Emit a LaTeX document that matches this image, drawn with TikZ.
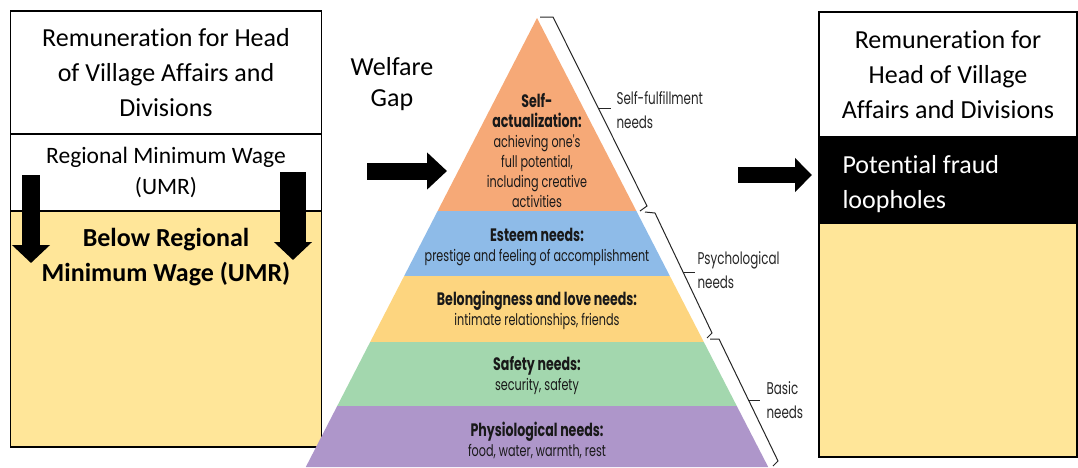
\documentclass[tikz,border=0pt]{standalone}
\usepackage{fontspec}
\setmainfont[Ligatures={NoCommon,NoContextual},Contextuals=NoAlternate]{Carlito}
\newfontfamily\pyrfont[FakeStretch=0.7]{Poppins}
\usetikzlibrary{positioning,arrows.meta}

\definecolor{boxgold}{HTML}{FFE699}
\definecolor{pyrorange}{HTML}{F6A977}
\definecolor{pyrblue}{HTML}{8EBBE8}
\definecolor{pyryellow}{HTML}{FDD57F}
\definecolor{pyrgreen}{HTML}{A3D7AE}
\definecolor{pyrpurple}{HTML}{AE96CA}

\begin{document}
\begin{tikzpicture}
    [ x = 1pt, y = -1pt
    , box/.style =
      { draw, line width=1.5pt, inner sep=0pt, outer sep=0pt, minimum width=311pt }
    , boxtext/.style =
      { font=\fontsize{26}{35}\selectfont, align=center }
    , fatarrow/.style =
      { line width=17pt, -{Triangle[length=20pt,width=36pt]} }
    , tier/.style =
      { font=\pyrfont\fontsize{16}{20}\selectfont, align=center, text=black!90 }
    , bracket/.style =
      { line width=1pt, black!85 }
    , bracketlabel/.style =
      { font=\pyrfont\fontsize{17}{24}\selectfont, align=left, anchor=west, text=black!85 }
    ]
    \useasboundingbox (0,0) rectangle (1078,467);

    % left column
    \node [box, boxtext, minimum height=123pt] (headleft) at (166,72.5)
      {Remuneration for Head\\of Village Affairs and\\Divisions};
    \node [box, font=\fontsize{23.5}{31}\selectfont, align=center, minimum height=77pt]
      (umrleft) [below=0pt of headleft] {Regional Minimum Wage\\(UMR)};
    \node [box, fill=boxgold, minimum height=236pt] (belowleft) [below=0pt of umrleft] {};
    \node [boxtext, font=\bfseries\fontsize{26}{35}\selectfont] (belowtext)
      at ([yshift=-46pt]belowleft.north) {Below Regional\\Minimum Wage (UMR)};

    \coordinate (dropl1) at (31,175);
    \coordinate (dropl2) at (31,263);
    \coordinate (dropr1) at (293,172);
    \coordinate (dropr2) at (293,260);
    \draw [fatarrow, line width=18pt, -{Triangle[length=18pt,width=37pt]}] (dropl1) -- (dropl2);
    \draw [fatarrow, line width=26pt, -{Triangle[length=18pt,width=37pt]}] (dropr1) -- (dropr2);

    % welfare gap
    \node [font=\fontsize{26}{31}\selectfont, align=center] (gap) at (392,84.5) {Welfare\\Gap};
    \coordinate (gapstart) at (367,171);
    \coordinate (gapend) at (447,171);
    \draw [fatarrow] (gapstart) -- (gapend);

    % pyramid
    \coordinate (apex) at (537,18);
    \coordinate (baseleft) at (305.8,467);
    \coordinate (baseright) at (768.2,467);
    \begin{scope}
      \clip (apex) -- (baseleft) -- (baseright) -- cycle;
      \fill [pyrorange] (300,0) rectangle (780,211);
      \fill [pyrblue] (300,211) rectangle (780,276);
      \fill [pyryellow] (300,276) rectangle (780,342);
      \fill [pyrgreen] (300,342) rectangle (780,406);
      \fill [pyrpurple] (300,406) rectangle (780,468);
    \end{scope}

    \node [tier] (selfact) at (537,151)
      {{\bfseries\fontsize{18}{21}\selectfont Self-}\\
       {\bfseries\fontsize{18}{21}\selectfont actualization:}\\
       achieving one's\\full potential,\\including creative\\activities};
    \node [tier] (esteem) at (537,247)
      {{\bfseries\fontsize{18}{20}\selectfont Esteem needs:}\\prestige and feeling of accomplishment};
    \node [tier] (belong) at (537,310)
      {{\bfseries\fontsize{18}{20}\selectfont Belongingness and love needs:}\\intimate relationships, friends};
    \node [tier] (safety) at (537,375)
      {{\bfseries\fontsize{18}{20}\selectfont Safety needs:}\\security, safety};
    \node [tier] (physio) at (537,440)
      {{\bfseries\fontsize{18}{20}\selectfont Physiological needs:}\\food, water, warmth, rest};

    % brackets
    \draw [bracket] (540,17) -- (553,17) -- (647,206) -- (640,211);
    \draw [bracket] (598,108) -- (611,108);
    \draw [bracket] (645,212) -- (655,213) -- (712,333) -- (707,338);
    \draw [bracket] (683,272) -- (695,272);
    \draw [bracket] (710,339) -- (719,339) -- (778,461) -- (773,466);
    \draw [bracket] (748,400) -- (760,400);

    \node [bracketlabel] (selfful) at (613,110) {Self-fulfillment\\needs};
    \node [bracketlabel] (psych) at (694,270) {Psychological\\needs};
    \node [bracketlabel] (basic) at (763,400) {Basic\\needs};

    % right column
    \coordinate (fraudstart) at (738,175);
    \coordinate (fraudend) at (812,175);
    \draw [fatarrow, line width=16pt, -{Triangle[length=17pt,width=33pt]}] (fraudstart) -- (fraudend);

    \node [box, boxtext, minimum width=258pt, minimum height=125pt] (headright) at (948,74.5)
      {Remuneration for\\Head of Village\\Affairs and Divisions};
    \node [box, fill=black, minimum width=258pt, minimum height=86pt] (fraud) [below=0pt of headright] {};
    \node [box, fill=boxgold, minimum width=258pt, minimum height=234pt] (goldright) [below=0pt of fraud] {};
    \node [boxtext, text=white, align=left, anchor=west] (fraudtext)
      at ([xshift=20pt,yshift=-4pt]fraud.west) {Potential fraud\\loopholes};
\end{tikzpicture}
\end{document}
